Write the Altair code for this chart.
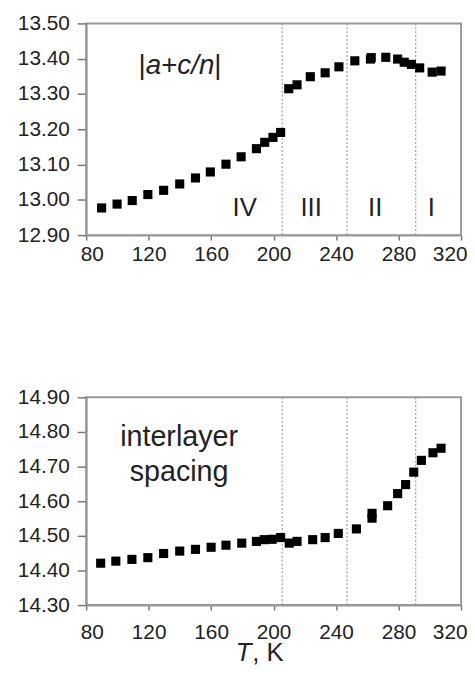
import altair as alt
import pandas as pd

# ---- data ----
t_top = [89.9, 99.8, 109.5, 119.5, 129.6, 139.9, 150.0, 159.5, 169.5, 179.2,
         189.0, 194.3, 199.6, 204.5, 209.7, 215.0, 223.5, 233.0, 241.8, 252.0,
         262.0, 262.5, 271.8, 279.4, 283.6, 288.2, 293.5, 301.5, 307.2]
v_top = [12.977, 12.988, 12.998, 13.015, 13.027, 13.045, 13.062, 13.079, 13.101, 13.122,
         13.145, 13.163, 13.177, 13.191, 13.315, 13.326, 13.349, 13.360, 13.377, 13.394,
         13.399, 13.403, 13.404, 13.399, 13.390, 13.384, 13.374, 13.362, 13.365]

t_bot = [89.3, 99.0, 109.3, 119.5, 129.6, 139.9, 150.0, 160.0, 169.5, 179.6,
         189.0, 194.0, 199.0, 204.5, 210.0, 215.0, 225.0, 233.0, 241.4, 253.0,
         263.0, 263.0, 273.0, 279.4, 284.5, 289.7, 294.6, 302.0, 307.2]
v_bot = [14.421, 14.427, 14.432, 14.437, 14.449, 14.456, 14.461, 14.467, 14.473, 14.479,
         14.484, 14.489, 14.490, 14.495, 14.479, 14.484, 14.489, 14.495, 14.507, 14.520,
         14.565, 14.551, 14.587, 14.622, 14.648, 14.684, 14.718, 14.740, 14.753]

phase_bounds = [205.5, 247.0, 291.0]
phase_labels = ["IV", "III", "II", "I"]
phase_label_t = [181.5, 224.0, 265.0, 301.0]
phase_label_y = 12.976

x_ticks = [80, 120, 160, 200, 240, 280, 320]
y_ticks_top = [12.9, 13.0, 13.1, 13.2, 13.3, 13.4, 13.5]
y_ticks_bot = [14.3, 14.4, 14.5, 14.6, 14.7, 14.8, 14.9]

df_top = pd.DataFrame({"T": t_top, "v": v_top})
df_bot = pd.DataFrame({"T": t_bot, "v": v_bot})
df_bounds = pd.DataFrame({"T": phase_bounds})
df_roman = pd.DataFrame({"T": phase_label_t, "v": [phase_label_y] * 4, "lab": phase_labels})

FONT = "Liberation Sans"
xscale = alt.Scale(domain=[80, 320], nice=False, zero=False)


def xaxis(pad):
    return alt.Axis(values=x_ticks, title=None, labelPadding=pad, tickSize=5,
                    labelFlush=True, labelFlushOffset=6, labelOverlap=False)


def yaxis(vals):
    return alt.Axis(values=vals, format=".2f", title=None, labelPadding=8, tickSize=9,
                    labelOverlap=False)


xa_top = xaxis(4)
xa_bot = xaxis(12)
ya_top = yaxis(y_ticks_top)
ya_bot = yaxis(y_ticks_bot)
ys_t = alt.Scale(domain=[12.9, 13.5], nice=False, zero=False)
ys_b = alt.Scale(domain=[14.3, 14.9], nice=False, zero=False)


def X(xa):
    return alt.X("T:Q", scale=xscale, axis=xa)


def Y(ys, ya):
    return alt.Y("v:Q", scale=ys, axis=ya)


def panel(df, ys, xa, ya):
    pts = alt.Chart(df).mark_point(shape="square", filled=True, color="black",
                                   size=85, opacity=1).encode(x=X(xa), y=Y(ys, ya))
    rules = alt.Chart(df_bounds).mark_rule(color="#888", strokeWidth=1,
                                           strokeDash=[2, 2]).encode(x=X(xa))
    return rules, pts


rules_t, pts_t = panel(df_top, ys_t, xa_top, ya_top)
rules_b, pts_b = panel(df_bot, ys_b, xa_bot, ya_bot)

roman = alt.Chart(df_roman).mark_text(font=FONT, fontSize=26, color="#222",
                                      baseline="middle").encode(
    x=X(xa_top), y=Y(ys_t, ya_top), text="lab:N")

# |a+c/n| label pieces
lab_t = 113.5
lab_v = 13.38
pieces = [("|", "normal", 0), ("a", "italic", 7.3), ("+", "normal", 22.9),
          ("c/n", "italic", 39.3), ("|", "normal", 76.7)]
lab_layers = []
for txt, style, dx in pieces:
    lab_layers.append(
        alt.Chart(pd.DataFrame({"T": [lab_t], "v": [lab_v], "s": [txt]})).mark_text(
            font=FONT, fontSize=28, fontStyle=style, color="#222", align="left",
            baseline="middle", dx=dx).encode(
            x=X(xa_top), y=Y(ys_t, ya_top), text="s:N"))

inter = alt.Chart(pd.DataFrame({"T": [139.5, 139.5], "v": [14.785, 14.685],
                                "s": ["interlayer", "spacing"]})).mark_text(
    font=FONT, fontSize=29, color="#222", align="center", baseline="middle").encode(
    x=X(xa_bot), y=Y(ys_b, ya_bot), text="s:N")

title_T = alt.Chart(pd.DataFrame({"s": ["T"]})).mark_text(
    font=FONT, fontSize=26, fontStyle="italic", color="#222", align="right",
    baseline="alphabetic").encode(x=alt.value(167), y=alt.value(267), text="s:N")
title_K = alt.Chart(pd.DataFrame({"s": [", K"]})).mark_text(
    font=FONT, fontSize=26, color="#222", align="left",
    baseline="alphabetic").encode(x=alt.value(168), y=alt.value(267), text="s:N")

top = alt.layer(rules_t, pts_t, roman, *lab_layers).properties(width=379, height=214)
bot = alt.layer(rules_b, pts_b, inter, title_T, title_K).properties(width=379, height=210)

chart = alt.vconcat(top, bot, spacing=121).properties(
    padding={"left": 8, "top": 0, "right": -1, "bottom": -3}
).configure_view(stroke="#999", strokeWidth=2).configure_axis(
    labelFont=FONT, labelFontSize=21, labelColor="#222", tickColor="#777",
    domainColor="#999", domainWidth=2, tickWidth=1.5, grid=False
)

chart.save("out.html", embed_options={"renderer": "svg", "actions": False})
